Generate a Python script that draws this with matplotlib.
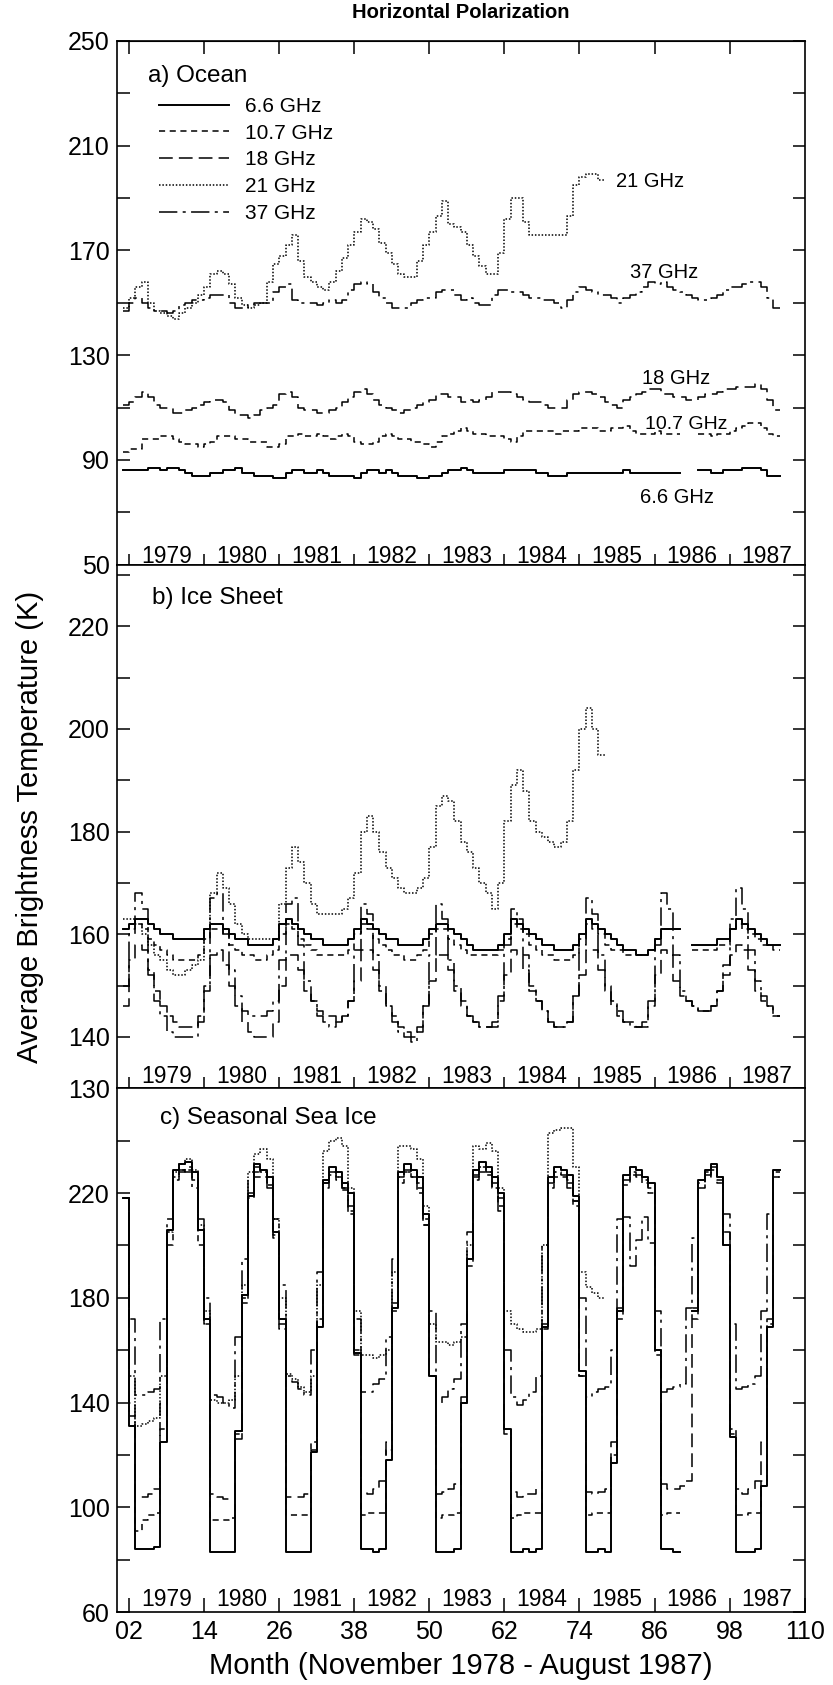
import numpy as np
import matplotlib
matplotlib.use("Agg")
import matplotlib.pyplot as plt
from matplotlib.lines import Line2D

nan = np.nan

# month index 1 = Dec 1978, then one row per year (Jan..Dec), last row 1987 Jan..Aug
# ---------------- a) Ocean ----------------
ocean_66 = [86,
    86, 86, 86, 87, 87, 86, 87, 87, 86, 85, 84, 84,
    84, 85, 85, 86, 86, 87, 85, 85, 84, 84, 84, 83,
    83, 85, 86, 86, 85, 85, 86, 85, 84, 84, 84, 84,
    83, 85, 86, 86, 85, 86, 85, 84, 84, 84, 83, 83,
    84, 84, 85, 86, 86, 87, 86, 85, 85, 85, 85, 85,
    86, 86, 86, 86, 86, 85, 85, 84, 84, 84, 85, 85,
    85, 85, 85, 85, 85, 85, 85, 86, 85, 85, 85, 85,
    85, 85, 85, 85, nan, nan, nan, 86, 86, 85, 85, 86,
    86, 86, 87, 87, 87, 86, 84, 84]
ocean_107 = [93,
    94, 94, 98, 98, 98, 99, 99, 98, 97, 96, 96, 95,
    96, 97, 99, 99, 99, 98, 98, 97, 97, 97, 95, 95,
    96, 99, 99, 100, 99, 99, 100, 99, 98, 99, 100, 99,
    97, 96, 96, 97, 99, 100, 99, 98, 98, 97, 97, 96,
    95, 97, 99, 100, 101, 102, 101, 100, 100, 99, 99, 99,
    98, 97, 99, 101, 101, 101, 101, 101, 100, 101, 101, 101,
    102, 102, 102, 101, 101, 102, 102, 103, 101, 100, 100, 100,
    101, 100, 100, 100, nan, nan, nan, 100, 100, 99, 100, 100,
    101, 102, 103, 104, 104, 102, 100, 99]
ocean_18 = [111,
    112, 114, 116, 114, 111, 110, 110, 108, 108, 109, 110, 111,
    112, 113, 113, 112, 109, 107, 107, 106, 107, 109, 110, 111,
    115, 116, 114, 110, 109, 109, 108, 108, 109, 110, 112, 114,
    116, 117, 115, 113, 111, 110, 109, 108, 109, 110, 111, 112,
    113, 115, 115, 114, 114, 112, 113, 112, 113, 114, 116, 116,
    116, 115, 114, 113, 112, 112, 111, 110, 110, 110, 113, 115,
    116, 116, 115, 114, 112, 111, 110, 113, 114, 115, 116, 117,
    117, 115, 115, 114, 114, 113, 113, 114, 115, 115, 116, 117,
    117, 118, 118, 118, 119, 117, 113, 109]
ocean_21 = [148,
    152, 156, 158, 150, 147, 146, 145, 144, 146, 148, 150, 153,
    156, 161, 162, 161, 157, 152, 149, 148, 149, 150, 158, 165,
    168, 172, 176, 166, 160, 158, 156, 155, 158, 162, 167, 172,
    177, 182, 181, 178, 173, 169, 165, 161, 160, 160, 166, 172,
    177, 183, 189, 180, 179, 177, 172, 168, 164, 161, 161, 169,
    182, 190, 190, 181, 176, 176, 176, 176, 176, 176, 183, 195,
    198, 199, 199, 197]
ocean_37 = [147,
    150, 152, 150, 148, 147, 147, 146, 147, 149, 150, 151, 151,
    152, 153, 153, 153, 150, 148, 148, 149, 150, 150, 150, 154,
    156, 157, 151, 150, 150, 150, 149, 150, 151, 150, 151, 155,
    157, 158, 157, 154, 152, 150, 148, 148, 148, 150, 151, 152,
    152, 154, 155, 155, 153, 151, 152, 150, 149, 149, 153, 155,
    155, 154, 154, 153, 152, 152, 151, 151, 150, 148, 151, 154,
    156, 155, 154, 153, 153, 152, 150, 152, 153, 154, 156, 158,
    157, 158, 156, 155, 154, 153, 152, 151, 151, 152, 153, 155,
    156, 156, 157, 158, 158, 156, 152, 148]

# ---------------- b) Ice sheet ----------------
ice_66 = [161,
    162, 163, 163, 162, 161, 160, 160, 159, 159, 159, 159, 159,
    161, 162, 162, 161, 160, 159, 159, 158, 158, 158, 158, 159,
    162, 163, 162, 161, 160, 159, 159, 158, 158, 158, 158, 159,
    161, 163, 162, 161, 160, 159, 159, 158, 158, 158, 158, 159,
    161, 162, 162, 161, 160, 159, 158, 157, 157, 157, 157, 158,
    160, 163, 162, 161, 160, 159, 158, 158, 157, 157, 157, 158,
    160, 163, 162, 161, 160, 159, 158, 157, 157, 156, 156, 157,
    159, 161, 161, 161, nan, nan, 158, 158, 158, 158, 159, 159,
    161, 163, 162, 161, 160, 159, 158, 158]
ice_107 = [161,
    161, 162, 161, 159, 158, 157, 156, 155, 155, 155, 155, 156,
    159, 161, 161, 160, 158, 157, 156, 156, 155, 155, 156, 157,
    160, 162, 161, 159, 158, 157, 156, 156, 156, 156, 156, 157,
    160, 162, 161, 159, 158, 157, 156, 156, 155, 155, 156, 157,
    160, 161, 161, 159, 158, 157, 156, 156, 156, 156, 156, 157,
    159, 162, 161, 160, 158, 157, 156, 156, 155, 155, 155, 156,
    159, 162, 161, 160, 158, 157, 157, 156, 156, 156, 156, 157,
    159, 161, 161, 161, nan, nan, 157, 157, 157, 157, 158, 158,
    161, 162, 161, 160, 159, 158, 158, 157]
ice_18 = [146,
    155, 158, 157, 153, 149, 146, 144, 143, 142, 142, 142, 144,
    149, 156, 157, 154, 150, 146, 143, 141, 140, 140, 140, 143,
    150, 156, 156, 153, 149, 147, 145, 144, 144, 143, 144, 147,
    151, 157, 157, 153, 149, 146, 144, 142, 141, 140, 142, 146,
    151, 156, 156, 153, 149, 146, 144, 143, 142, 142, 142, 147,
    152, 157, 156, 153, 149, 147, 145, 143, 142, 142, 143, 148,
    152, 157, 157, 153, 149, 146, 144, 143, 143, 142, 142, 146,
    152, 157, 156, 151, 148, 147, 146, 145, 145, 146, 149, 152,
    156, 158, 157, 153, 149, 147, 146, 144]
ice_21 = [163,
    163, 162, 160, 158, 156, 155, 153, 152, 152, 153, 154, 155,
    161, 168, 172, 169, 166, 162, 160, 159, 159, 159, 159, 159,
    166, 173, 177, 174, 170, 166, 164, 164, 164, 164, 165, 167,
    172, 180, 183, 180, 176, 173, 171, 169, 168, 168, 169, 171,
    177, 185, 187, 186, 182, 178, 176, 173, 170, 168, 165, 170,
    182, 189, 192, 188, 182, 180, 179, 178, 177, 178, 182, 192,
    200, 204, 200, 195]
ice_37 = [150,
    160, 168, 165, 152, 147, 144, 141, 140, 140, 140, 140, 143,
    150, 167, 168, 160, 153, 148, 145, 144, 144, 144, 145, 147,
    155, 166, 167, 158, 151, 147, 144, 143, 142, 143, 144, 147,
    157, 166, 164, 156, 150, 146, 143, 141, 140, 139, 141, 146,
    156, 166, 163, 155, 150, 147, 144, 143, 142, 142, 143, 148,
    158, 165, 163, 156, 150, 147, 145, 143, 142, 142, 143, 148,
    158, 167, 164, 156, 150, 147, 145, 143, 142, 142, 143, 147,
    158, 168, 165, 156, 149, 147, 146, 145, 145, 146, 149, 154,
    163, 169, 165, 157, 151, 148, 146, 144]

# ---------------- c) Seasonal sea ice ----------------
sea_66 = [218,
    131, 84, 84, 84, 85, 125, 206, 229, 231, 232, 228, 206,
    172, 83, 83, 83, 83, 129, 181, 219, 231, 229, 226, 205,
    172, 83, 83, 83, 83, 121, 169, 225, 230, 228, 224, 220,
    159, 84, 84, 83, 84, 118, 176, 228, 231, 229, 226, 212,
    150, 83, 83, 83, 84, 140, 195, 229, 232, 230, 226, 220,
    130, 83, 83, 84, 83, 84, 169, 226, 230, 229, 227, 219,
    152, 83, 83, 84, 83, 117, 175, 227, 230, 229, 226, 224,
    160, 84, 84, 83, nan, nan, 175, 225, 229, 231, 226, 200,
    127, 83, 83, 83, 84, 108, 169, 229]
sea_107 = [218,
    135, 91, 95, 97, 98, 130, 200, 225, 228, 229, 225, 200,
    170, 95, 95, 95, 96, 128, 178, 218, 226, 226, 223, 203,
    168, 97, 97, 97, 97, 125, 172, 222, 227, 225, 221, 212,
    160, 97, 98, 98, 98, 122, 175, 224, 228, 226, 222, 208,
    150, 96, 97, 97, 98, 140, 192, 225, 228, 227, 222, 215,
    130, 96, 97, 98, 98, 98, 168, 222, 226, 226, 224, 215,
    150, 97, 98, 98, 98, 120, 172, 223, 227, 226, 224, 220,
    158, 97, 98, 98, nan, nan, 172, 222, 226, 228, 224, 200,
    130, 97, 97, 98, 98, 110, 170, 226]
sea_18 = [218,
    140, 104, 104, 105, 107, 140, 205, 226, 229, 230, 226, 205,
    170, 105, 104, 103, 103, 126, 180, 220, 228, 228, 224, 204,
    170, 104, 104, 104, 105, 122, 170, 224, 228, 226, 222, 213,
    158, 106, 105, 107, 110, 125, 178, 226, 229, 228, 224, 208,
    150, 105, 106, 107, 109, 142, 195, 227, 230, 228, 224, 218,
    128, 106, 104, 105, 105, 107, 170, 224, 228, 227, 225, 217,
    150, 106, 105, 106, 107, 125, 176, 225, 228, 227, 225, 222,
    160, 109, 107, 107, 108, 110, 176, 224, 228, 230, 225, 205,
    128, 107, 105, 107, 110, 125, 172, 228]
sea_21 = [218,
    150, 131, 132, 133, 134, 150, 205, 228, 231, 233, 229, 208,
    175, 141, 140, 140, 141, 150, 185, 228, 235, 237, 233, 210,
    180, 151, 149, 146, 144, 150, 185, 236, 240, 241, 238, 222,
    175, 158, 158, 157, 158, 160, 190, 238, 238, 237, 233, 215,
    170, 163, 163, 162, 163, 165, 200, 238, 237, 239, 236, 222,
    175, 170, 168, 167, 167, 168, 200, 243, 244, 245, 245, 230,
    190, 184, 182, 180]
sea_37 = [218,
    172, 143, 143, 144, 145, 172, 210, 226, 229, 228, 222, 210,
    180, 143, 142, 140, 138, 165, 195, 225, 230, 228, 222, 210,
    185, 150, 148, 145, 143, 160, 190, 224, 228, 226, 222, 215,
    172, 144, 144, 147, 149, 165, 195, 226, 228, 226, 220, 210,
    175, 140, 142, 145, 149, 170, 205, 226, 230, 228, 222, 213,
    160, 142, 139, 141, 144, 150, 200, 224, 228, 227, 222, 217,
    180, 142, 144, 145, 146, 160, 210, 211, 192, 202, 211, 201,
    175, 144, 145, 146, 147, 176, 203, 222, 227, 229, 226, 212,
    170, 145, 146, 147, 150, 175, 212, 226]

freqs = ["6.6 GHz", "10.7 GHz", "18 GHz", "21 GHz", "37 GHz"]
years = ["1979", "1980", "1981", "1982", "1983", "1984", "1985", "1986", "1987"]
year_ticks = [2, 14, 26, 38, 50, 62, 74, 86, 98]
month_ticks = [2, 14, 26, 38, 50, 62, 74, 86, 98, 110]
month_labels = ["02", "14", "26", "38", "50", "62", "74", "86", "98", "110"]

styles = {
    "6.6 GHz": dict(linestyle="-", linewidth=1.4),
    "10.7 GHz": dict(linestyle=(0, (4, 3)), linewidth=1.1),
    "18 GHz": dict(linestyle=(0, (9, 4)), linewidth=1.1),
    "21 GHz": dict(linestyle=(0, (1, 1.2)), linewidth=1.1),
    "37 GHz": dict(linestyle=(0, (12, 3.5, 2, 3.5)), linewidth=1.1),
}

plt.rcParams["font.family"] = ["Liberation Sans", "DejaVu Sans"]

fig = plt.figure(figsize=(8.33, 16.85), dpi=100)
left, right = 0.140, 0.966
bottom, top = 0.0433, 0.9757
h = (top - bottom) / 3
ax_a = fig.add_axes([left, bottom + 2 * h, right - left, h])
ax_b = fig.add_axes([left, bottom + h, right - left, h])
ax_c = fig.add_axes([left, bottom, right - left, h])


def draw(ax, values, name):
    y = np.append(np.array(values, dtype=float), values[-1])
    x = np.arange(1, len(y) + 1)
    ax.plot(x, y, drawstyle="steps-post", color="black", **styles[name])


panels = [
    (ax_a, [ocean_66, ocean_107, ocean_18, ocean_21, ocean_37], (50, 250),
     [50, 90, 130, 170, 210, 250], [70, 110, 150, 190, 230], 53.0,
     "a) Ocean", 5.0, 236.5),
    (ax_b, [ice_66, ice_107, ice_18, ice_21, ice_37], (130, 232),
     [130, 140, 160, 180, 200, 220], [150, 170, 190, 210, 230], 132.3,
     "b) Ice Sheet", 5.6, 225.5),
    (ax_c, [sea_66, sea_107, sea_18, sea_21, sea_37], (60, 260),
     [60, 100, 140, 180, 220], [80, 120, 160, 200, 240], 64.8,
     "c) Seasonal Sea Ice", 7.0, 248.5),
]

for ax, series, ylim, majors, minors, year_y, title, title_x, title_y in panels:
    for vals, name in zip(series, freqs):
        draw(ax, vals, name)
    ax.set_xlim(0, 110)
    ax.set_ylim(*ylim)
    ax.set_yticks(majors)
    ax.set_yticks(minors, minor=True)
    ax.tick_params(axis="y", which="both", direction="in", length=9, width=1.1,
                   right=True, labelsize=18, pad=5)
    for sp in ax.spines.values():
        sp.set_linewidth(1.2)
    for k, yr in enumerate(years):
        ax.text(year_ticks[k] + 6, year_y, yr, ha="center", va="center", fontsize=16.5)
    ax.text(title_x, title_y, title, ha="left", va="center", fontsize=17.5)

for ax in (ax_a, ax_b):
    ax.set_xticks(year_ticks)
    ax.tick_params(axis="x", direction="inout", length=16, width=1.1,
                   labelbottom=False)

sec = ax_a.secondary_xaxis("top")
sec.set_xticks(year_ticks)
sec.tick_params(axis="x", direction="in", length=9, width=1.1, labeltop=False)

ax_c.set_xticks(month_ticks)
ax_c.set_xticklabels(month_labels)
ax_c.tick_params(axis="x", direction="in", length=10, width=1.1, labelsize=18, pad=6)

# legend in panel a
handles = [Line2D([], [], color="black", **styles[n]) for n in freqs]
ax_a.legend(handles, freqs, loc="upper left", bbox_to_anchor=(0.061, 0.893),
            frameon=False, fontsize=15, handlelength=3.4, handletextpad=0.75,
            labelspacing=0.37, borderpad=0, borderaxespad=0)

# curve labels in panel a
ax_a.text(79.8, 196.5, "21 GHz", ha="left", va="center", fontsize=14.5)
ax_a.text(82.0, 161.5, "37 GHz", ha="left", va="center", fontsize=14.5)
ax_a.text(84.0, 121.0, "18 GHz", ha="left", va="center", fontsize=14.5)
ax_a.text(84.4, 103.5, "10.7 GHz", ha="left", va="center", fontsize=14)
ax_a.text(83.6, 75.5, "6.6 GHz", ha="left", va="center", fontsize=14.5)

fig.text((left + right) / 2, 0.9923, "Horizontal Polarization", ha="center", va="center",
         fontsize=14.5, fontweight="bold")
fig.text((left + right) / 2, 0.0113, "Month (November 1978 - August 1987)",
         ha="center", va="center", fontsize=21)
fig.text(0.036, bottom + 1.5 * h, "Average Brightness Temperature (K)", rotation=90,
         ha="center", va="center", fontsize=21)

fig.savefig("out.png", dpi=100)
